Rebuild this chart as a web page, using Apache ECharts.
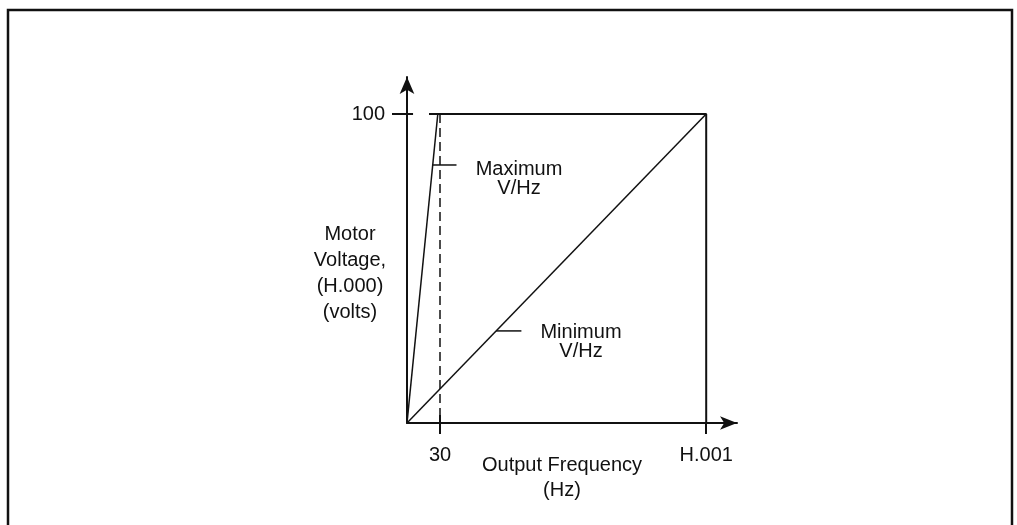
<!DOCTYPE html>
<html>
<head>
<meta charset="utf-8">
<script src="https://cdn.jsdelivr.net/npm/echarts@6/dist/echarts.min.js"></script>
<style>
  html, body { margin: 0; padding: 0; background: #fff; }
  #chart { width: 1017px; height: 525px; }
</style>
</head>
<body>
<div id="chart"></div>
<script>
// Axis ticks and their printed labels
const freqTicks = [30, 272];
const freqTickLabels = ['30', 'H.001'];
const voltTicks = [100];
const voltTickLabels = ['100'];

// V/Hz limit lines (frequency, voltage %)
const maxVHz = [[0, 0], [28, 100]];
const minVHz = [[0, 0], [272, 100]];

// Upper voltage limit and maximum-frequency boundary
const limitBox = [[20, 100], [272, 100], [272, 0]];
// Dashed guide at the 30 Hz tick
const guide30 = [[30, 100], [30, 0]];

// Callout leaders: [voltage level, end frequency]
const maxLeader = [83.5, 45];
const minLeader = [29.8, 104];

const FONT = '"Liberation Sans", Arial, Helvetica, sans-serif';
const INK = '#111';

function onLine(line, v) {
  const end = line[line.length - 1];
  return [end[0] * v / end[1], v];
}

const xMax = 300;
const yMax = 112;
const pxPerX = 1.1;
const pxPerY = 3.09;

const chart = echarts.init(document.getElementById('chart'), null, { renderer: 'canvas' });

function seg(data, width, dashed) {
  return {
    type: 'line',
    data: data,
    symbol: 'none',
    clip: false,
    silent: true,
    animation: false,
    lineStyle: { color: INK, width: width, type: dashed ? [9, 5] : 'solid', cap: 'butt' }
  };
}

chart.setOption({
  backgroundColor: '#fff',
  animation: false,
  grid: {
    left: 407,
    top: 423 - yMax * pxPerY,
    width: xMax * pxPerX,
    height: yMax * pxPerY,
    containLabel: false
  },
  xAxis: {
    type: 'value',
    min: 0,
    max: xMax,
    splitLine: { show: false },
    axisTick: {
      show: true,
      customValues: freqTicks,
      length: 11,
      lineStyle: { color: INK, width: 2 }
    },
    axisLine: {
      show: true,
      lineStyle: { color: INK, width: 2 },
      symbol: ['none', 'arrow'],
      symbolSize: [10, 17]
    },
    axisLabel: {
      customValues: freqTicks,
      formatter: v => freqTickLabels[freqTicks.indexOf(v)],
      color: INK,
      fontFamily: FONT,
      fontSize: 20,
      margin: 22
    }
  },
  yAxis: {
    type: 'value',
    min: 0,
    max: yMax,
    splitLine: { show: false },
    axisTick: {
      show: true,
      customValues: voltTicks,
      length: 15,
      lineStyle: { color: INK, width: 2 }
    },
    axisLine: {
      show: true,
      lineStyle: { color: INK, width: 2 },
      symbol: ['none', 'arrow'],
      symbolSize: [11, 17]
    },
    axisLabel: {
      customValues: voltTicks,
      formatter: v => voltTickLabels[voltTicks.indexOf(v)],
      color: INK,
      fontFamily: FONT,
      fontSize: 20,
      margin: 22
    }
  },
  series: [
    seg(maxVHz, 1.5),
    seg(minVHz, 1.5),
    seg(limitBox, 2),
    seg(guide30, 1.5, true),
    // inner halves of the cross ticks
    seg([[freqTicks[0], 0], [freqTicks[0], 2.6]], 2),
    seg([[0, voltTicks[0]], [5.5, voltTicks[0]]], 2),
    // callout leaders
    seg([onLine(maxVHz, maxLeader[0]), [maxLeader[1], maxLeader[0]]], 1.5),
    seg([onLine(minVHz, minLeader[0]), [minLeader[1], minLeader[0]]], 1.5)
  ],
  graphic: [
    {
      type: 'polyline',
      silent: true,
      shape: { points: [[8, 530], [8, 10], [1012, 10], [1012, 530]] },
      style: { stroke: INK, lineWidth: 2.5, fill: null }
    },
    {
      type: 'text', silent: true,
      style: {
        x: 350, y: 273, text: 'Motor\nVoltage,\n(H.000)\n(volts)',
        font: '20px ' + FONT, fill: INK, align: 'center', verticalAlign: 'middle', lineHeight: 26
      }
    },
    {
      type: 'text', silent: true,
      style: {
        x: 562, y: 478, text: 'Output Frequency\n(Hz)',
        font: '20px ' + FONT, fill: INK, align: 'center', verticalAlign: 'middle', lineHeight: 25
      }
    },
    {
      type: 'text', silent: true,
      style: {
        x: 519, y: 179, text: 'Maximum\nV/Hz',
        font: '20px ' + FONT, fill: INK, align: 'center', verticalAlign: 'middle', lineHeight: 19
      }
    },
    {
      type: 'text', silent: true,
      style: {
        x: 581, y: 342, text: 'Minimum\nV/Hz',
        font: '20px ' + FONT, fill: INK, align: 'center', verticalAlign: 'middle', lineHeight: 19
      }
    }
  ]
});
</script>
</body>
</html>
